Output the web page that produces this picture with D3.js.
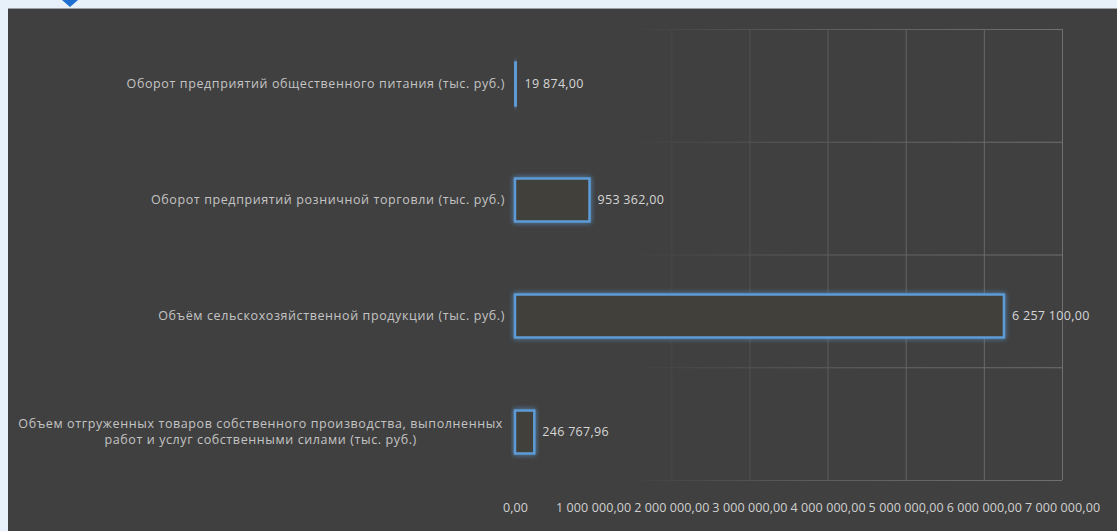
<!DOCTYPE html>
<html><head><meta charset="utf-8">
<script src="https://cdn.jsdelivr.net/npm/d3@7/dist/d3.min.js"></script>
<style>
html,body{margin:0;padding:0;background:#e8f0f9;overflow:hidden;}
svg{display:block;}
</style></head>
<body>
<svg id="chart" width="1117" height="531"></svg>
<script>
const categories = [
  ["Оборот предприятий общественного питания (тыс. руб.)"],
  ["Оборот предприятий розничной торговли (тыс. руб.)"],
  ["Объём сельскохозяйственной продукции (тыс. руб.)"],
  ["Объем отгруженных товаров собственного производства, выполненных", "работ и услуг собственными силами (тыс. руб.)"]
];
const values = [19874.00, 953362.00, 6257100.00, 246767.96];
const valueLabels = ["19 874,00", "953 362,00", "6 257 100,00", "246 767,96"];
const tickValues = [0, 1000000, 2000000, 3000000, 4000000, 5000000, 6000000, 7000000];
const tickLabels = ["0,00", "1 000 000,00", "2 000 000,00", "3 000 000,00", "4 000 000,00", "5 000 000,00", "6 000 000,00", "7 000 000,00"];

const svg = d3.select("#chart");
const W = 1117, H = 531;
const font = "'Open Sans', 'Noto Sans', sans-serif";

// frame
svg.append("rect").attr("x", 8).attr("y", 8).attr("width", W - 8).attr("height", H - 8).attr("fill", "#404040");
svg.append("line").attr("x1", 8).attr("x2", W).attr("y1", 8.5).attr("y2", 8.5).attr("stroke", "#9aa0a6").attr("stroke-width", 1);
svg.append("path").attr("d", "M62,0 L78,0 L70,7 Z").attr("fill", "#1f6fd1");

const m = {left: 515, right: 1117 - 1062, top: 29, bottom: 531 - 480};
const x = d3.scaleLinear().domain([0, 7000000]).range([m.left, W - m.right]);
const y = d3.scaleBand().domain(d3.range(values.length)).range([26, 490]).paddingInner(0.63).paddingOuter(0.315);
const yFull = d3.scaleBand().domain(d3.range(values.length)).range([m.top, H - m.bottom]);

const defs = svg.append("defs");
const grad = defs.append("linearGradient").attr("id", "fade").attr("gradientUnits", "userSpaceOnUse")
  .attr("x1", m.left).attr("x2", W - m.right).attr("y1", 0).attr("y2", 0);
grad.append("stop").attr("offset", "0.2").attr("stop-color", "#fff").attr("stop-opacity", 0);
grad.append("stop").attr("offset", "0.55").attr("stop-color", "#fff").attr("stop-opacity", 0.6);
grad.append("stop").attr("offset", "1").attr("stop-color", "#fff").attr("stop-opacity", 1);
defs.append("mask").attr("id", "gridMask").append("rect")
  .attr("x", 0).attr("y", 0).attr("width", W).attr("height", H).attr("fill", "url(#fade)");
const glow = defs.append("filter").attr("id", "glow").attr("x", "-20%").attr("y", "-40%").attr("width", "140%").attr("height", "180%");
glow.append("feGaussianBlur").attr("in", "SourceGraphic").attr("stdDeviation", 2.5).attr("result", "b");
const mg = glow.append("feMerge");
mg.append("feMergeNode").attr("in", "b");
mg.append("feMergeNode").attr("in", "SourceGraphic");

// grid
const grid = svg.append("g").attr("mask", "url(#gridMask)");
grid.selectAll("line.v").data(tickValues).join("line")
  .attr("x1", d => x(d) + 0.5).attr("x2", d => x(d) + 0.5)
  .attr("y1", m.top).attr("y2", H - m.bottom)
  .attr("stroke", "#707070").attr("stroke-width", 1);
grid.selectAll("line.h").data(d3.range(values.length + 1)).join("line")
  .attr("x1", m.left).attr("x2", W - m.right)
  .attr("y1", d => m.top + d * yFull.step() + 0.5).attr("y2", d => m.top + d * yFull.step() + 0.5)
  .attr("stroke", "#707070").attr("stroke-width", 1);

// bars
svg.append("g").selectAll("rect").data(values).join("rect")
  .attr("x", x(0)).attr("y", (d, i) => y(i))
  .attr("width", d => Math.max(1, x(d) - x(0))).attr("height", y.bandwidth())
  .attr("fill", "#433f3b").attr("stroke", "#5b9bd5").attr("stroke-width", 2.5)
  .attr("filter", "url(#glow)");

// value labels
svg.append("g").selectAll("text").data(values).join("text")
  .attr("x", d => x(d) + 8).attr("y", (d, i) => y(i) + y.bandwidth() / 2 + 1)
  .attr("dominant-baseline", "middle")
  .attr("fill", "#d6d6d6").attr("font-family", font).attr("font-size", 12.5).attr("letter-spacing", 0.3)
  .text((d, i) => valueLabels[i]);

// category labels
const cat = svg.append("g").selectAll("text").data(categories).join("text")
  .attr("fill", "#c4c4c4").attr("font-family", font).attr("font-size", 12.5).attr("letter-spacing", 0.6)
  .attr("y", (d, i) => y(i) + y.bandwidth() / 2);
cat.each(function (lines) {
  const t = d3.select(this);
  const n = lines.length;
  const spans = lines.map((l, j) => t.append("tspan")
    .attr("dy", j === 0 ? ((1 - n) * 8 + 4) + "px" : "16px").text(l));
  if (n === 1) {
    spans[0].attr("x", 505).attr("text-anchor", "end");
  } else {
    const w = d3.max(spans, s => s.node().getComputedTextLength());
    spans.forEach(s => s.attr("x", 503 - w / 2).attr("text-anchor", "middle"));
  }
});

// x axis
const axis = d3.axisBottom(x).tickValues(tickValues).tickSize(0).tickFormat((d, i) => tickLabels[i]);
const ax = svg.append("g").attr("transform", `translate(0,${H - m.bottom + 20})`).call(axis);
ax.select(".domain").remove();
ax.selectAll("text").attr("fill", "#d0d0d0").attr("font-family", font).attr("font-size", 12.5).attr("letter-spacing", 0.1);
</script>
</body></html>
